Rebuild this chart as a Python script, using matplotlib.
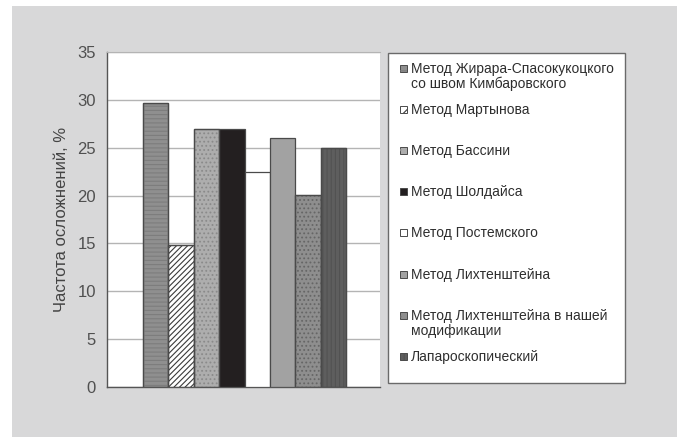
import matplotlib
matplotlib.use("Agg")
import matplotlib.pyplot as plt
from matplotlib.patches import Rectangle

plt.rcParams['font.family'] = ['Liberation Sans', 'DejaVu Sans']
plt.rcParams['hatch.linewidth'] = 0.8

methods = [
    "Метод Жирара-Спасокукоцкого\nсо швом Кимбаровского",
    "Метод Мартынова",
    "Метод Бассини",
    "Метод Шолдайса",
    "Метод Постемского",
    "Метод Лихтенштейна",
    "Метод Лихтенштейна в нашей\nмодификации",
    "Лапароскопический",
]
values = [29.7, 14.8, 27.0, 27.0, 22.5, 26.0, 20.1, 25.0]
yticks = [0, 5, 10, 15, 20, 25, 30, 35]
ylabel = "Частота осложнений, %"

fills = ['#8f8f8f', '#ffffff', '#adadad', '#231f20', '#ffffff', '#a2a2a2', '#8e8e8e', '#5e5e5e']
hatches = ['----', '//////', '....', None, None, None, '....', '||||']
hatch_cols = ['#7d7d7d', '#3a3a3a', '#8a8a8a', None, None, None, '#666666', '#525252']

W, H = 677, 437
fig = plt.figure(figsize=(W / 100, H / 100), dpi=100)
fig.patch.set_facecolor('white')
fig.patches.append(Rectangle((12 / W, 0), 1 - 12 / W, 1 - 6 / H, transform=fig.transFigure,
                             facecolor='#d8d8d9', edgecolor='none', zorder=-10))

L, R, T, B = 107, 380, 52, 387
ax = fig.add_axes([L / W, 1 - B / H, (R - L) / W, (B - T) / H])
ax.set_facecolor('white')

x = list(range(len(values)))
ax.bar(x, values, width=1.0, color=fills, edgecolor='#4a4a4a', linewidth=0.9, zorder=3)
for xi, v, h, hc in zip(x, values, hatches, hatch_cols):
    if h:
        ax.bar(xi, v, width=1.0, fill=False, hatch=h, edgecolor=hc, linewidth=0, zorder=4)
        ax.bar(xi, v, width=1.0, fill=False, edgecolor='#4a4a4a', linewidth=0.9, zorder=5)

ax.set_xlim(-1.92, 8.84)
ax.set_ylim(0, 35)
ax.set_yticks(yticks)
ax.set_xticks([])
ax.yaxis.grid(True, color='#b4b4b4', linewidth=1.0, zorder=0)
ax.set_axisbelow(True)
ax.tick_params(axis='y', length=0, pad=8, labelsize=12, labelcolor='#505050')
ax.set_ylabel(ylabel, fontsize=12, color='#444444')
ax.yaxis.set_label_coords(-38 / (R - L), 0.5)
for s in ['left', 'bottom']:
    ax.spines[s].set_color('#555555')
    ax.spines[s].set_linewidth(1.0)
ax.spines['top'].set_color('#b4b4b4')
ax.spines['right'].set_visible(False)

# legend box
lx0, ly0, lx1, ly1 = 388, 53, 625, 383
fig.patches.append(Rectangle((lx0 / W, 1 - ly1 / H), (lx1 - lx0) / W, (ly1 - ly0) / H,
                             transform=fig.transFigure, facecolor='white',
                             edgecolor='#6a6a6a', linewidth=1.0, zorder=1))
y_first = 68
step = 41.2
for i, lab in enumerate(methods):
    yc = y_first + i * step
    s = 7
    fig.patches.append(Rectangle((400 / W, 1 - (yc + s / 2) / H), s / W, s / H,
                                 transform=fig.transFigure, facecolor=fills[i],
                                 edgecolor='#4a4a4a', linewidth=0.7, zorder=2))
    if hatches[i]:
        fig.patches.append(Rectangle((400 / W, 1 - (yc + s / 2) / H), s / W, s / H,
                                     transform=fig.transFigure, fill=False,
                                     hatch=hatches[i][:2], edgecolor=hatch_cols[i],
                                     linewidth=0, zorder=3))
    fig.text(411 / W, 1 - (yc - 6.5) / H, lab, fontsize=10.0, color='#2e2e2e',
             va='top', ha='left', linespacing=1.08, zorder=4)

fig.savefig('out.png', dpi=100, facecolor=fig.get_facecolor())
